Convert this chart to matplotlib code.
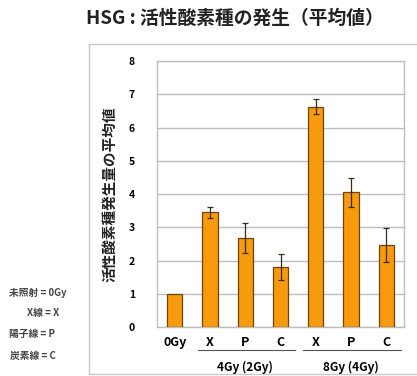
import matplotlib
matplotlib.use("Agg")
import matplotlib.pyplot as plt
from matplotlib.patches import Rectangle
from matplotlib.lines import Line2D

plt.rcParams['font.family'] = ['Noto Sans CJK JP', 'DejaVu Sans']

categories = ["0Gy", "X", "P", "C", "X", "P", "C"]
values = [1.0, 3.45, 2.67, 1.80, 6.63, 4.05, 2.47]
errors = [0.0, 0.17, 0.45, 0.39, 0.22, 0.43, 0.52]
group_labels = ["4Gy (2Gy)", "8Gy (4Gy)"]
group_members = [(1, 3), (4, 6)]
legend_lines = ["未照射 = 0Gy", "X線 = X", "陽子線 = P", "炭素線 = C"]
title = "HSG : 活性酸素種の発生（平均値）"
ylabel = "活性酸素種発生量の平均値"

W, H = 417, 376
fig = plt.figure(figsize=(W / 100, H / 100), dpi=100)

# outer chart frame
fig.add_artist(Rectangle((89 / W, 1 - 374 / H), (W + 5 - 89) / W, (374 - 44) / H,
                         transform=fig.transFigure, fill=False,
                         edgecolor="#c8c8c8", lw=1.0))

ax = fig.add_axes([157 / W, 1 - 327.3 / H, (404 - 157) / W, (327.3 - 61) / H])
x = list(range(len(categories)))
ax.bar(x, values, width=0.43, color="#F79B0C", edgecolor="#6b4310", linewidth=0.9,
       zorder=3)
ax.errorbar([i for i, e in zip(x, errors) if e > 0],
            [v for v, e in zip(values, errors) if e > 0],
            yerr=[e for e in errors if e > 0], fmt="none", ecolor="#3a2a1a",
            elinewidth=0.9, capsize=2.5, capthick=0.9, zorder=4)

ax.set_xlim(-0.5, len(categories) - 0.5)
ax.set_ylim(0, 8)
ax.set_yticks(range(0, 9))
ax.yaxis.grid(True, color="#bdbdbd", lw=1.0, zorder=0)
ax.set_axisbelow(True)
for s in ax.spines.values():
    s.set_color("#bdbdbd")
    s.set_linewidth(1.0)
ax.tick_params(length=0)
ax.tick_params(axis="y", pad=16, labelsize=7.5)
ax.tick_params(axis="x", pad=6, labelsize=9)
for lab in ax.get_yticklabels():
    lab.set_fontweight("bold")
ax.set_xticks(x)
ax.set_xticklabels(categories, fontweight="bold")

# group labels and underline beneath the radiation types
for (a, b), lbl in zip(group_members, group_labels):
    x0 = ax.transData.transform((a - 0.35, 0))[0]
    x1 = ax.transData.transform((b + 0.42, 0))[0]
    fig.add_artist(Line2D([x0 / fig.bbox.width, x1 / fig.bbox.width],
                          [1 - 350 / H, 1 - 350 / H], transform=fig.transFigure,
                          color="#555555", lw=0.8))
    xc = ax.transData.transform(((a + b) / 2, 0))[0] / fig.bbox.width
    fig.text(xc, 1 - 367 / H, lbl, ha="center", va="center", fontsize=8.5,
             fontweight="bold")

fig.text(235 / W, 1 - 18 / H, title, ha="center", va="center", fontsize=13.5,
         fontweight="bold", color="#222222")
fig.text(109 / W, 1 - 194 / H, ylabel, ha="center", va="center", rotation=90,
         fontsize=10.5, fontweight="bold", color="#222222")

leg_pos = [(9, 293), (27, 313), (9, 334), (10, 356)]
for (lx, ly), t in zip(leg_pos, legend_lines):
    fig.text(lx / W, 1 - ly / H, t, ha="left", va="center", fontsize=7,
             fontweight="bold", color="#444444")

fig.savefig("out.png", dpi=100)
